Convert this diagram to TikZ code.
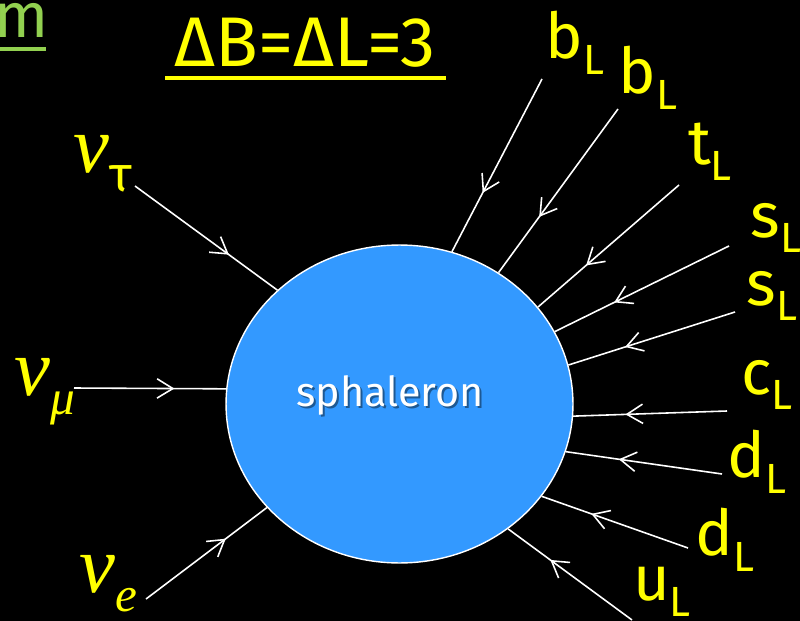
\documentclass[tikz,border=0pt]{standalone}
\usepackage{fontspec}
\setmainfont{Fira Sans}
\newfontfamily\nufont{Liberation Serif}
\usetikzlibrary{shapes.geometric,arrows.meta,decorations.markings}

\definecolor{sphblue}{RGB}{51,153,255}
\definecolor{labyellow}{RGB}{255,255,0}
\definecolor{headgreen}{RGB}{146,208,80}

\tikzset{
    inflow/.style={draw=white, line width=0.9pt, postaction={decorate},
        decoration={markings, mark=at position 0.66 with
            {\arrow{Straight Barb[length=9pt,width=11pt,line width=0.9pt]}}}},
    lab/.style={text=labyellow, font=\fontsize{36}{40}\selectfont, inner sep=0pt},
    nulab/.style={text=labyellow, font=\fontsize{46}{50}\selectfont, inner sep=0pt}
}
\newcommand{\qlab}[1]{#1\raisebox{-9pt}{\fontsize{24}{28}\selectfont L}}
\newcommand{\nlab}[1]{{\nufont\itshape ν}\raisebox{-11pt}{\fontsize{28}{32}\selectfont #1}}

\begin{document}
\begin{tikzpicture}[x=0.02cm, y=-0.02cm]
    \fill[black] (0,0) rectangle (800,621);
    \useasboundingbox (0,0) rectangle (800,621);

    \node[ellipse, draw=white, line width=0.8pt, fill=sphblue,
        minimum width=6.94cm, minimum height=6.36cm, inner sep=0pt] (sph) at (399.5,404) {};
    \node[text=black!70!sphblue, opacity=0.6, font=\fontsize{23.5}{26}\selectfont] at (392,397) {sphaleron};
    \node[text=white, font=\fontsize{23.5}{26}\selectfont] (sphname) at (390,395) {sphaleron};

    \node[text=labyellow, font=\fontsize{40}{44}\selectfont] (title) at (305,43) {ΔB=ΔL=3};
    \draw[labyellow, line width=2.8pt] (165,78) -- (446,78);

    \node[text=headgreen, font=\fontsize{36}{40}\selectfont, inner sep=0pt] (head) at (22,20) {m};
    \draw[headgreen, line width=2.2pt] (0,49) -- (46,49);

    \foreach \nm/\tx/\lx/\ly/\sx/\sy/\ang in {
        bone/b/575/43/542/79/71,
        btwo/b/648/78/618/109/53,
        t/t/710/152/679/185/35,
        sone/s/776/228/729/246/25,
        stwo/s/772/296/735/312/13,
        c/c/767/385/727/411/356,
        done/d/757/462/722/474/344,
        dtwo/d/725/540/688/548/327,
        u/u/662/592/632/620/311}
    {
        \node[lab] (\nm) at (\lx,\ly) {\qlab{\tx}};
        \coordinate (\nm-in) at (\sx,\sy);
        \draw[inflow] (\nm-in) -- (sph.\ang);
    }

    \node[nulab] (nutau) at (103,164) {\nlab{τ}};
    \node[nulab] (numu) at (45,392) {\nlab{{\nufont\itshape μ}}};
    \node[nulab] (nue) at (108,584) {\nlab{{\nufont\itshape e}}};
    \coordinate (nutau-in) at (135,186);
    \coordinate (numu-in) at (74,388);
    \coordinate (nue-in) at (146,599);
    \draw[inflow] (nutau-in) -- (sph.137);
    \draw[inflow] (numu-in) -- (sph.175);
    \draw[inflow] (nue-in) -- (sph.218);

\end{tikzpicture}
\end{document}
